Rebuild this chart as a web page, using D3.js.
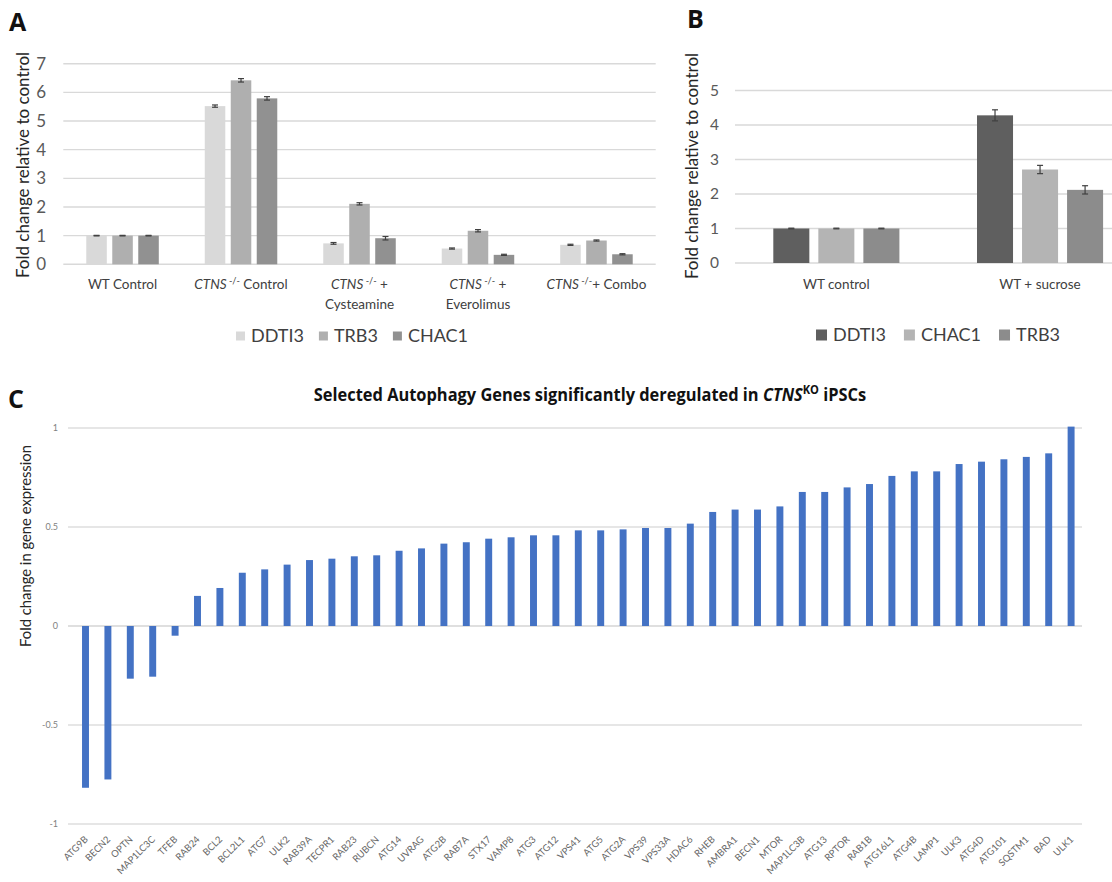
<!DOCTYPE html>
<html><head><meta charset="utf-8">
<script src="https://cdn.jsdelivr.net/npm/d3@7"></script>
<style>body{margin:0;background:#fff;} svg{display:block;}</style>
</head><body><svg id="chart" width="1112" height="882"></svg>
<script>
// ---------- Panel A data ----------
const aCategories = ["WT Control", "CTNS Control", "CTNS + Cysteamine", "CTNS + Everolimus", "CTNS + Combo"];
// label markup: _italic_  ^superscript^ ; "|" separates lines
const aCategoryLabels = ["WT Control", "_CTNS_^ -/-^ Control", "_CTNS_^ -/-^   +|Cysteamine", "_CTNS_^ -/-^ +|Everolimus", "_CTNS_^ -/-^+ Combo"];
const aSeries = ["DDTI3", "TRB3", "CHAC1"];
const aDDTI3 = [1.00, 5.52, 0.73, 0.55, 0.68];
const aTRB3  = [1.00, 6.42, 2.11, 1.17, 0.83];
const aCHAC1 = [1.00, 5.79, 0.91, 0.33, 0.35];
const aErrDDTI3 = [0.01, 0.04, 0.03, 0.02, 0.02];
const aErrTRB3  = [0.01, 0.06, 0.04, 0.04, 0.02];
const aErrCHAC1 = [0.01, 0.06, 0.06, 0.02, 0.02];
const aTicks = [0, 1, 2, 3, 4, 5, 6, 7];
const aColors = ["#d9d9d9", "#afafaf", "#919191"];

// ---------- Panel B data ----------
const bCategories = ["WT control", "WT + sucrose"];
const bSeries = ["DDTI3", "CHAC1", "TRB3"];
const bDDTI3 = [1.00, 4.28];
const bCHAC1 = [1.00, 2.71];
const bTRB3  = [1.00, 2.12];
const bErrDDTI3 = [0.01, 0.16];
const bErrCHAC1 = [0.01, 0.12];
const bErrTRB3  = [0.01, 0.12];
const bTicks = [0, 1, 2, 3, 4, 5];
const bColors = ["#5f5f5f", "#b4b4b4", "#8c8c8c"];

// ---------- Panel C data ----------
const cGenes = ["ATG9B","BECN2","OPTN","MAP1LC3C","TFEB","RAB24","BCL2","BCL2L1","ATG7","ULK2",
  "RAB39A","TECPR1","RAB23","RUBCN","ATG14","UVRAG","ATG2B","RAB7A","STX17","VAMP8",
  "ATG3","ATG12","VPS41","ATG5","ATG2A","VPS39","VPS33A","HDAC6","RHEB","AMBRA1",
  "BECN1","MTOR","MAP1LC3B","ATG13","RPTOR","RAB1B","ATG16L1","ATG4B","LAMP1","ULK3",
  "ATG4D","ATG101","SQSTM1","BAD","ULK1"];
const cValues = [-0.817,-0.775,-0.266,-0.256,-0.049,0.152,0.192,0.269,0.286,0.310,
  0.333,0.340,0.352,0.357,0.380,0.392,0.416,0.423,0.441,0.448,
  0.458,0.458,0.483,0.483,0.488,0.495,0.495,0.517,0.576,0.588,
  0.588,0.604,0.677,0.677,0.700,0.717,0.758,0.781,0.781,0.818,
  0.830,0.842,0.854,0.872,1.007];
const cTicks = [-1, -0.5, 0, 0.5, 1];
const cTickLabels = ["-1", "-0.5", "0", "0.5", "1"];
const cColor = "#4472c4";

const svg = d3.select("#chart");
svg.append("rect").attr("width", 1112).attr("height", 882).attr("fill", "#fff");
const FONT = "Lato, 'Open Sans', sans-serif";
const GRID = "#d9d9d9";
const TXT = "#404040";

function richText(sel, markup, fs) {
  const parts = markup.split(/(_[^_]+_|\^[^^]+\^)/).filter(s => s.length);
  let shifted = false;
  parts.forEach(p => {
    const t = sel.append("tspan");
    if (p.startsWith("_")) { t.text(p.slice(1, -1)).attr("font-style", "italic"); if (shifted) { t.attr("dy", fs * 0.4); shifted = false; } }
    else if (p.startsWith("^")) { t.text(p.slice(1, -1)).attr("font-size", fs * 0.68).attr("dy", -fs * 0.4); shifted = true; }
    else { t.text(p); if (shifted) { t.attr("dy", fs * 0.4); shifted = false; } }
  });
}

function legend(g, names, colors, cx, cy, fs, sq, gap, spacing) {
  const items = names.map((n, i) => {
    const it = g.append("g");
    it.append("rect").attr("y", cy - sq / 2).attr("width", sq).attr("height", sq).attr("fill", colors[i]);
    const t = it.append("text").attr("x", sq + gap).attr("y", cy).attr("dy", "0.35em")
      .attr("font-family", FONT).attr("font-size", fs).attr("fill", TXT).text(n);
    return { it, w: sq + gap + t.node().getComputedTextLength() };
  });
  const total = d3.sum(items, d => d.w) + spacing * (items.length - 1);
  let x = cx - total / 2;
  items.forEach(d => { d.it.attr("transform", `translate(${x},0)`); x += d.w + spacing; });
}

function groupedPanel(opt) {
  const g = svg.append("g");
  const x = d3.scaleBand().domain(opt.categories).range(opt.xRange).paddingInner(opt.padInner).paddingOuter(opt.padInner / 2);
  const xi = d3.scaleBand().domain(opt.series).range([0, x.bandwidth()]).paddingInner(opt.barGap);
  const y = d3.scaleLinear().domain(opt.yDomain).range(opt.yRange);
  g.selectAll("line.grid").data(opt.ticks).join("line")
    .attr("x1", opt.gridX[0]).attr("x2", opt.gridX[1])
    .attr("y1", d => y(d)).attr("y2", d => y(d))
    .attr("stroke", GRID).attr("stroke-width", 1.4);
  const ax = g.append("g").attr("transform", `translate(${opt.tickX},0)`)
    .call(d3.axisLeft(y).tickValues(opt.ticks).tickSize(0).tickPadding(0).tickFormat(d3.format("d")));
  ax.select(".domain").remove();
  ax.selectAll("text").attr("font-family", FONT).attr("font-size", opt.tickFs).attr("fill", "#595959");
  opt.series.forEach((s, si) => {
    const vals = opt.values[si], errs = opt.errs[si];
    opt.categories.forEach((c, ci) => {
      const bx = x(c) + xi(s);
      g.append("rect").attr("x", bx).attr("width", xi.bandwidth())
        .attr("y", y(vals[ci])).attr("height", y(0) - y(vals[ci])).attr("fill", opt.colors[si]);
      const cxp = bx + xi.bandwidth() / 2, e = errs[ci], cw = opt.capW;
      const eg = g.append("g").attr("stroke", "#404040").attr("stroke-width", 1.2);
      eg.append("line").attr("x1", cxp).attr("x2", cxp).attr("y1", y(vals[ci] - e)).attr("y2", y(vals[ci] + e));
      eg.append("line").attr("x1", cxp - cw / 2).attr("x2", cxp + cw / 2).attr("y1", y(vals[ci] - e)).attr("y2", y(vals[ci] - e));
      eg.append("line").attr("x1", cxp - cw / 2).attr("x2", cxp + cw / 2).attr("y1", y(vals[ci] + e)).attr("y2", y(vals[ci] + e));
    });
  });
  opt.categories.forEach((c, ci) => {
    const lines = opt.labels[ci].split("|");
    lines.forEach((ln, li) => {
      const t = g.append("text").attr("x", x(c) + x.bandwidth() / 2).attr("y", opt.labelY + li * opt.lineH)
        .attr("text-anchor", "middle").attr("font-family", FONT).attr("font-size", opt.labelFs).attr("fill", TXT);
      richText(t, ln, opt.labelFs);
    });
  });
  g.append("text").attr("transform", `translate(${opt.titleX},${opt.titleY}) rotate(-90)`)
    .attr("text-anchor", "middle").attr("font-family", FONT).attr("font-size", opt.titleFs).attr("fill", "#262626")
    .text("Fold change relative to control");
  legend(g, opt.series, opt.colors, opt.legendCx, opt.legendY, opt.legendFs, opt.legendSq, 6, opt.legendSpacing);
}

groupedPanel({
  categories: aCategories, labels: aCategoryLabels, series: aSeries,
  values: [aDDTI3, aTRB3, aCHAC1], errs: [aErrDDTI3, aErrTRB3, aErrCHAC1], colors: aColors,
  xRange: [63.3, 655.7], padInner: 0.388, barGap: 0.21,
  yDomain: [0, 7], yRange: [264.3, 63.7], ticks: aTicks, gridX: [63.3, 655.7],
  tickX: 46, tickFs: 17, capW: 6,
  labelY: 289, lineH: 20, labelFs: 13.5,
  titleX: 29, titleY: 165, titleFs: 17,
  legendCx: 352, legendY: 336, legendFs: 18, legendSq: 9, legendSpacing: 15
});

groupedPanel({
  categories: bCategories, labels: bCategories, series: bSeries,
  values: [bDDTI3, bCHAC1, bTRB3], errs: [bErrDDTI3, bErrCHAC1, bErrTRB3], colors: bColors,
  xRange: [734.5, 1141.9], padInner: 0.381, barGap: 0.2,
  yDomain: [0, 5], yRange: [263, 90.5], ticks: bTicks, gridX: [735, 1112],
  tickX: 719, tickFs: 15.5, capW: 6,
  labelY: 289, lineH: 20, labelFs: 13.5,
  titleX: 698, titleY: 166, titleFs: 17,
  legendCx: 938, legendY: 335, legendFs: 18, legendSq: 11, legendSpacing: 18
});

[["A", 9, 31], ["B", 687, 28], ["C", 8, 408]].forEach(([t, x, y]) => {
  svg.append("text").attr("x", x).attr("y", y).attr("font-family", "'Open Sans', sans-serif")
    .attr("font-weight", 700).attr("font-size", 25).attr("fill", "#111").text(t);
});

// Panel C
const gc = svg.append("g");
const xC = d3.scaleBand().domain(cGenes).range([74.3, 1082.3]).paddingInner(0.69).paddingOuter(0.345);
const yC = d3.scaleLinear().domain([-1, 1]).range([824, 428]);
gc.selectAll("line.grid").data(cTicks).join("line")
  .attr("x1", 68).attr("x2", 1082).attr("y1", d => yC(d)).attr("y2", d => yC(d))
  .attr("stroke", d => d === 0 ? "#d4d4d4" : "#dedede").attr("stroke-width", 1.3);
const axC = gc.append("g").attr("transform", "translate(58,0)")
  .call(d3.axisLeft(yC).tickValues(cTicks).tickSize(0).tickPadding(0).tickFormat((d, i) => cTickLabels[i]));
axC.select(".domain").remove();
axC.selectAll("text").attr("font-family", FONT).attr("font-size", 9).attr("fill", "#7f7f7f");
gc.selectAll("rect.bar").data(cGenes).join("rect")
  .attr("x", d => xC(d)).attr("width", xC.bandwidth())
  .attr("y", (d, i) => yC(Math.max(0, cValues[i])))
  .attr("height", (d, i) => Math.abs(yC(cValues[i]) - yC(0)))
  .attr("fill", cColor);
gc.selectAll("text.glabel").data(cGenes).join("text")
  .attr("transform", d => `translate(${xC(d) + xC.bandwidth() / 2 + 3},${840}) rotate(-45)`)
  .attr("text-anchor", "end").attr("font-family", FONT).attr("font-size", 9.5).attr("fill", "#666")
  .text(d => d);
gc.append("text").attr("transform", "translate(31,546) rotate(-90)").attr("text-anchor", "middle")
  .attr("font-family", FONT).attr("font-size", 14.8).attr("fill", "#262626").text("Fold change in gene expression");
// title: bold, horizontally condensed to the reference's width
const titleG = gc.append("g");
const title = titleG.append("text").attr("x", 0).attr("y", 0).attr("text-anchor", "middle")
  .attr("font-family", "'Open Sans', sans-serif")
  .attr("font-weight", 700).attr("font-size", 17.5).attr("fill", "#111");
richText(title, "Selected Autophagy Genes significantly deregulated in _CTNS_^KO^ iPSCs", 17.5);
const tw = title.node().getBBox().width;
titleG.attr("transform", `translate(590,401) scale(${553 / tw},1)`);
</script></body></html>
